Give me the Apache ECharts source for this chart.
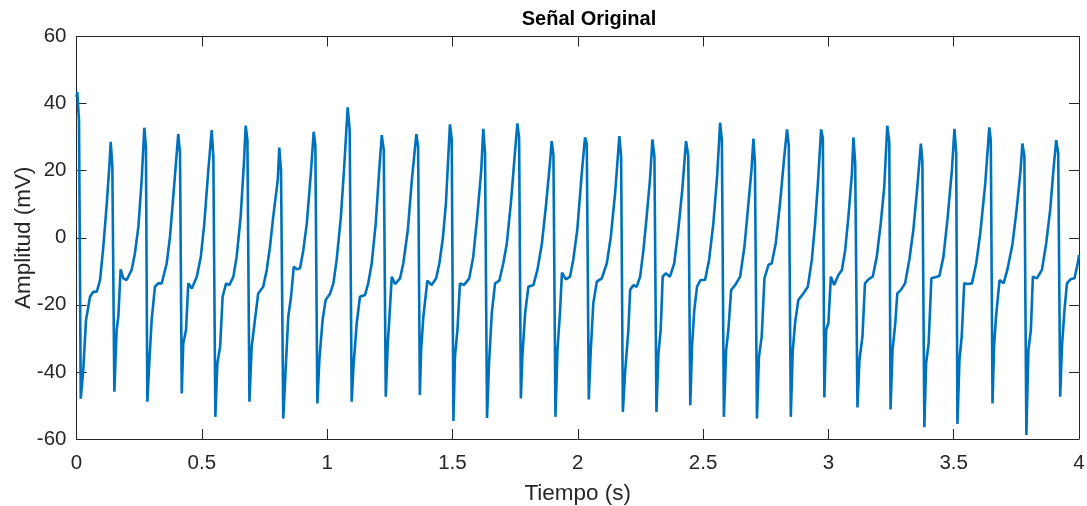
<!DOCTYPE html>
<html>
<head>
<meta charset="utf-8">
<script src="https://cdn.jsdelivr.net/npm/echarts@6/dist/echarts.min.js"></script>
<style>
html,body{margin:0;padding:0;background:#fff;}
#chart{width:1087px;height:506px;}
</style>
</head>
<body>
<div id="chart"></div>
<script>
// tiempo (s), un ciclo por linea
var tiempo = [
	0, 0.003, 0.010, 0.017, 0.027, 0.038, 0.054, 0.067, 0.081, 0.094, 0.107, 0.121, 0.131,
	0.1365, 0.143, 0.151, 0.160, 0.167, 0.176, 0.187, 0.200, 0.220, 0.233, 0.247, 0.260,
	0.2706, 0.277, 0.2826, 0.291, 0.300, 0.313, 0.326, 0.340, 0.360, 0.373, 0.386,
	0.406, 0.413, 0.420, 0.426, 0.437, 0.446, 0.460, 0.480, 0.496, 0.510, 0.526,
	0.5395, 0.546, 0.554, 0.562, 0.573, 0.583, 0.597, 0.610, 0.626, 0.639, 0.655, 0.668,
	0.675, 0.682, 0.690, 0.699, 0.712, 0.725, 0.745, 0.759, 0.772, 0.785, 0.803,
	0.809, 0.816, 0.825, 0.835, 0.845, 0.856, 0.867, 0.879, 0.892, 0.905, 0.919, 0.935,
	0.9465, 0.953, 0.961, 0.969, 0.982, 0.994, 1.012, 1.025, 1.038, 1.055, 1.069,
	1.082, 1.090, 1.098, 1.105, 1.118, 1.131, 1.151, 1.164, 1.178, 1.194, 1.207,
	1.218, 1.226, 1.234, 1.242, 1.248, 1.258, 1.271, 1.291, 1.304, 1.322, 1.338,
	1.356, 1.363, 1.370, 1.375, 1.384, 1.400, 1.417, 1.435, 1.448, 1.462, 1.474,
	1.490, 1.497, 1.504, 1.510, 1.520, 1.530, 1.546, 1.567, 1.583, 1.599, 1.615,
	1.623, 1.630, 1.638, 1.646, 1.657, 1.670, 1.687, 1.703, 1.717, 1.733, 1.746,
	1.759, 1.766, 1.773, 1.779, 1.790, 1.803, 1.823, 1.839, 1.857, 1.874, 1.889,
	1.896, 1.903, 1.911, 1.919, 1.929, 1.937, 1.953, 1.969, 1.982, 1.998, 2.016,
	2.029, 2.036, 2.044, 2.052, 2.062, 2.076, 2.096, 2.116, 2.132, 2.149,
	2.166, 2.173, 2.180, 2.189, 2.202, 2.209, 2.222, 2.235, 2.249, 2.262, 2.275, 2.288,
	2.298, 2.306, 2.314, 2.322, 2.331, 2.339, 2.351, 2.368, 2.385, 2.401, 2.417,
	2.432, 2.441, 2.449, 2.456, 2.465, 2.476, 2.490, 2.508, 2.524, 2.541, 2.556,
	2.568, 2.575, 2.583, 2.592, 2.601, 2.612, 2.628, 2.648, 2.665, 2.681, 2.693,
	2.701, 2.707, 2.715, 2.723, 2.734, 2.745, 2.761, 2.774, 2.790, 2.807, 2.824,
	2.835, 2.842, 2.850, 2.858, 2.867, 2.880, 2.900, 2.918, 2.934, 2.947, 2.958,
	2.971, 2.978, 2.984, 2.991, 3.000, 3.010, 3.023, 3.040, 3.054, 3.067, 3.080, 3.094,
	3.100, 3.107, 3.116, 3.124, 3.136, 3.146, 3.160, 3.177, 3.193, 3.209, 3.223,
	3.235, 3.243, 3.248, 3.256, 3.267, 3.275, 3.289, 3.306, 3.323, 3.339, 3.355,
	3.369, 3.375, 3.383, 3.390, 3.400, 3.411, 3.426, 3.443, 3.459, 3.475, 3.493,
	3.503, 3.510, 3.515, 3.523, 3.532, 3.542, 3.555, 3.573, 3.590, 3.606, 3.626,
	3.642, 3.648, 3.655, 3.661, 3.669, 3.683, 3.699, 3.714, 3.735, 3.751, 3.767,
	3.774, 3.782, 3.790, 3.798, 3.808, 3.816, 3.832, 3.852, 3.869, 3.885, 3.898,
	3.909, 3.917, 3.925, 3.932, 3.942, 3.952, 3.966, 3.982, 3.995, 4.000
];
// amplitud (mV), mismo orden que tiempo
var amplitud = [
	42, 43.5, 35, -48, -39.4, -24.5, -17.6, -16.1, -16.1, -12.6, -2.7, 10.3, 21.2,
	28.6, 21.2, -45.9, -27.5, -23.5, -9.4, -12.1, -12.6, -9.6, -4.7, 3.3, 17.2,
	32.8, 27.2, -48.9, -36.5, -24.5, -14.6, -13.6, -13.6, -7.6, 0.3, 12.2,
	30.9, 25.2, -46.4, -31.5, -27.5, -13.6, -15.1, -11.6, -5.7, 4.3, 20.2,
	32.1, 24.2, -53.4, -37.5, -32.5, -17.6, -13.6, -14.1, -11.6, -5.7, 6.3, 22.2,
	33.4, 29.1, -48.9, -32.5, -24.5, -16.6, -14.6, -9.6, -2.7, 6.3, 17.2,
	26.9, 20.2, -53.9, -38.5, -23.5, -17.6, -8.6, -9.4, -9.1, -3.7, 4.3, 19.2,
	31.6, 27.6, -49.4, -36.5, -24.5, -18.6, -16.6, -13.6, -6.6, 6.3, 22.2,
	38.9, 32.1, -48.9, -38.5, -25.5, -17.6, -17.1, -13.6, -7.6, 4.3, 19.2,
	30.6, 26.2, -47.4, -31.5, -24.5, -11.6, -13.8, -12.1, -7.6, 2.3, 17.2,
	30.9, 27.2, -46.9, -33.5, -23.5, -12.8, -14.1, -12.1, -7.6, 0, 10.2,
	33.8, 29.6, -54.6, -35.5, -27.5, -13.6, -14.1, -12.1, -5.7, 6.3, 20.2,
	32.5, 25.2, -53.7, -37.5, -22.5, -13.6, -12.8, -7.6, -1.7, 10.2, 22.2,
	34.1, 29.9, -47.9, -35.5, -22.5, -14.6, -14.1, -9.6, -1.7, 10.2, 22.2,
	28.8, 24.7, -53.4, -33.5, -22.5, -10.4, -12.4, -11.6, -6.6, 2.3, 19.2,
	29.9, 28.1, -48.2, -33.5, -19.6, -13.1, -12.1, -7.6, 0.3, 13.2,
	30.3, 24.2, -51.9, -40, -27.5, -15.6, -14.1, -14.6, -11.6, -3.7, 6.3, 17.2,
	29.3, 24.2, -51.9, -34.5, -27.5, -11.6, -10.6, -11.6, -7.6, 2.3, 14.2,
	28.8, 24.4, -49.9, -32.5, -21.6, -14.6, -12.6, -12.6, -6.6, 4.3, 18.2,
	34.3, 29.1, -53.4, -33.5, -27.5, -15.6, -14.1, -11.6, -2.7, 10.2, 20,
	29.6, 22.2, -53.9, -35.5, -29.5, -12.1, -8.1, -7.6, -1.7, 10.2, 24.2,
	32.3, 27.6, -53.4, -33.5, -25.5, -18.6, -16.6, -14.6, -6.6, 4.3, 16,
	32.3, 29.6, -47.6, -27.5, -25.5, -11.6, -14.1, -11.1, -9.6, -3.7, 6.3, 19.2,
	29.9, 22.2, -50.6, -36.5, -29.5, -13.6, -12.4, -11.6, -5.7, 4.3, 15.2,
	33.4, 28.6, -51.2, -33.5, -25.5, -16.6, -15.6, -13.6, -6.6, 2.3, 15.2,
	28.1, 23.0, -56.5, -37.5, -31.5, -12.1, -11.8, -11.4, -5.7, 5.3, 20.2,
	32.5, 25.2, -55.5, -36.5, -29.5, -13.6, -13.8, -13.6, -7.6, 1.3, 16.2,
	32.9, 29.1, -49.4, -32.5, -23.5, -12.6, -13.6, -9.6, -1.7, 8.3, 20.2,
	28.1, 24.4, -58.8, -33.5, -27.5, -11.6, -12.1, -9.6, -1.7, 8.3, 20.2,
	29.1, 25.2, -47.4, -32.5, -21.6, -13.6, -12.4, -12.1, -7.6, -5.2
];
var xTicks = [0, 0.5, 1, 1.5, 2, 2.5, 3, 3.5, 4];
var yTicks = [-60, -40, -20, 0, 20, 40, 60];

var colorEje = '#262626';
var fuente = 'Liberation Sans, Arial, sans-serif';

function puntos(){
	var d = [];
	for(var i = 0; i < tiempo.length; i++){
		d.push([tiempo[i], amplitud[i]]);
	}
	return d;
}

// eje con marcas hacia dentro, estilo caja
function ejeX(pos, conTexto){
	return {
		type: 'value', position: pos,
		min: xTicks[0], max: xTicks[xTicks.length-1], interval: 0.5,
		name: conTexto ? 'Tiempo (s)' : '', nameLocation: 'middle', nameGap: 43,
		nameMoveOverlap: false,
		nameTextStyle: {color: colorEje, fontSize: 22.5, fontFamily: fuente},
		axisLine: {show: true, onZero: false, lineStyle: {color: colorEje, width: 1}},
		axisTick: {show: true, inside: true, length: 10, lineStyle: {color: colorEje}},
		axisLabel: {show: conTexto, color: colorEje, fontSize: 20.5, fontFamily: fuente, margin: 14},
		splitLine: {show: false}
	};
}
function ejeY(pos, conTexto){
	return {
		type: 'value', position: pos,
		min: yTicks[0], max: yTicks[yTicks.length-1], interval: 20,
		name: conTexto ? 'Amplitud (mV)' : '', nameLocation: 'middle', nameGap: 41,
		nameMoveOverlap: false,
		nameTextStyle: {color: colorEje, fontSize: 22.5, fontFamily: fuente},
		axisLine: {show: true, onZero: false, lineStyle: {color: colorEje, width: 1}},
		axisTick: {show: true, inside: true, length: 10, lineStyle: {color: colorEje}},
		axisLabel: {show: conTexto, color: colorEje, fontSize: 20.5, fontFamily: fuente, margin: 10},
		splitLine: {show: false}
	};
}

var chart = echarts.init(document.getElementById('chart'));
var option = {
	animation: false,
	backgroundColor: '#fff',
	title: {
		text: 'Señal Original', left: 584, top: 4, textAlign: 'center',
		textStyle: {color: '#000', fontSize: 20, fontWeight: 'bold', fontFamily: fuente}
	},
	grid: {left: 76.5, right: 8, top: 36.5, bottom: 67, outerBoundsMode: 'none'},
	xAxis: [ejeX('bottom', true), ejeX('top', false)],
	yAxis: [ejeY('left', true), ejeY('right', false)],
	series: [{
		type: 'line', xAxisIndex: 0, yAxisIndex: 0,
		showSymbol: false, smooth: false,
		lineStyle: {color: '#0072BD', width: 2.6},
		itemStyle: {color: '#0072BD'},
		data: puntos()
	}]
};
chart.setOption(option);
</script>
</body>
</html>
